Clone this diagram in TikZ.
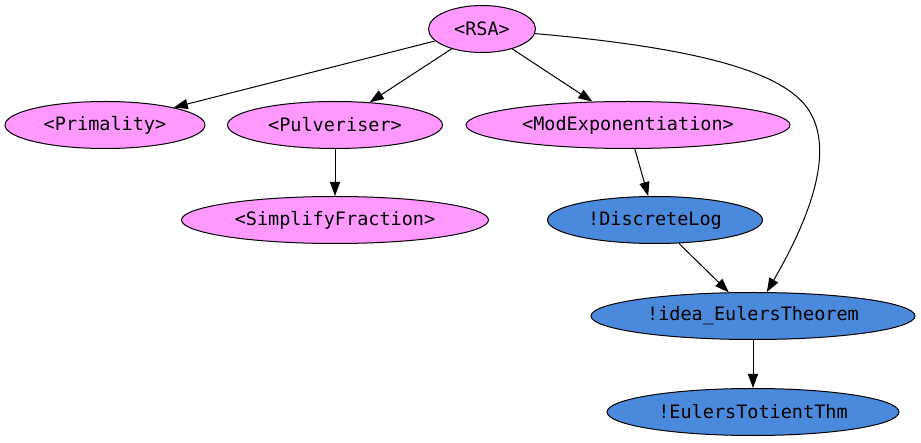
\documentclass[tikz,border=0pt]{standalone}
\usepackage{fontspec}
\setmonofont{DejaVu Sans Mono}
\usepackage{tikz}
\usepackage{xcolor}
\usetikzlibrary{arrows.meta,positioning,shapes.geometric}
\definecolor{modpink}{RGB}{255,153,255}
\definecolor{factblue}{RGB}{74,137,220}

\begin{document}
\begin{tikzpicture}[
    x=1pt,y=-1pt,
    every node/.style={font=\ttfamily\fontsize{18.5}{20}\selectfont},
    modnode/.style={ellipse,draw=black,fill=modpink,line width=1pt,
      inner sep=0pt,minimum height=47pt},
    factnode/.style={ellipse,draw=black,fill=factblue,line width=1pt,
      inner sep=0pt,minimum height=47pt},
    arrow/.style={-{Triangle[length=14pt,width=10pt]},line width=1pt}
  ]
    \useasboundingbox (0,0) rectangle (921,443);

    \node[modnode,minimum width=107pt] (rsa) at (482,29) {<RSA>};
    \node[modnode,minimum width=200pt] (prim) at (105,125) {<Primality>};
    \node[modnode,minimum width=215pt] (pulv) at (335,125) {<Pulveriser>};
    \node[modnode,minimum width=324pt] (modexp) at (628,125) {<ModExponentiation>};
    \node[modnode,minimum width=307pt] (simp) at (335,220) {<SimplifyFraction>};
    \node[factnode,minimum width=215pt] (dlog) at (655,220) {!DiscreteLog};
    \node[factnode,minimum width=324pt] (euler) at (753,316) {!idea\_EulersTheorem};
    \node[factnode,minimum width=292pt] (totient) at (753,412) {!EulersTotientThm};
    \coordinate (bend) at (805,105);

    \draw[arrow] (rsa) .. controls (700,48) and (778,72) .. (bend)
      .. controls (833,140) and (820,200) .. (euler);
    \draw[arrow] (rsa) -- (prim);
    \draw[arrow] (rsa) -- (pulv);
    \draw[arrow] (rsa) -- (modexp);
    \draw[arrow] (pulv) -- (simp);
    \draw[arrow] (modexp) -- (dlog);
    \draw[arrow] (dlog) -- (euler);
    \draw[arrow] (euler) -- (totient);
  \end{tikzpicture}
\end{document}
